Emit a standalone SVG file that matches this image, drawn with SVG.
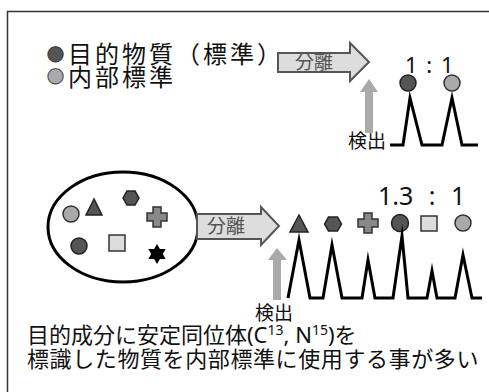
<svg xmlns="http://www.w3.org/2000/svg" width="489" height="392" viewBox="0 0 489 392">
<style>
.jp{font-family:"Noto Sans CJK JP","Noto Sans",sans-serif;fill:#111}
.num{font-family:"Noto Sans","Liberation Sans",sans-serif;fill:#111}
.dk{fill:#555;stroke:#222;stroke-width:1.5}
.md{fill:#888;stroke:#333;stroke-width:1.5}
.lt{fill:#aaa;stroke:#333;stroke-width:1.5}
.sq{fill:#ddd;stroke:#333;stroke-width:1.5}
.arrow{fill:#ddd;stroke:#555;stroke-width:2;stroke-linejoin:miter}
.uparrow{fill:#aaa;stroke:none}
.peak{fill:none;stroke:#000;stroke-width:3;stroke-linejoin:miter;stroke-miterlimit:10}
.albl{font-family:"Noto Sans CJK JP",sans-serif;font-size:19px;fill:#555}
.dot{font-size:17px;stroke:#222;stroke-width:0.8}
</style>
<rect x="7.5" y="11.5" width="500" height="400" fill="#fff" stroke="#333" stroke-width="1.5"/>

<g id="legend">
<text class="jp" x="47" y="61" font-size="24" letter-spacing="3"><tspan class="dot" fill="#555">●</tspan><tspan x="68" y="63">目的物質（標準）</tspan></text>
<text class="jp" x="47" y="83" font-size="24" letter-spacing="3"><tspan class="dot" fill="#aaa">●</tspan><tspan x="68" y="86">内部標準</tspan></text>
</g>

<g id="sep-arrow-top">
<polygon class="arrow" points="278,53 350,53 350,43 369,62 350,81 350,72 278,72"/>
<text class="albl" x="314" y="69" text-anchor="middle">分離</text>
</g>

<g id="ratio-top">
<text class="num" x="405" y="73" font-size="22" word-spacing="3">1 : 1</text>
<circle class="dk" cx="408" cy="83" r="8"/>
<circle class="lt" cx="452" cy="83" r="8"/>
</g>

<g id="detect-top">
<polygon class="uparrow" points="369,79 378,92 373,92 373,133 365,133 365,92 360,92"/>
<text class="jp" x="367" y="148" font-size="19" text-anchor="middle">検出</text>
</g>

<g id="chrom-top">
<polyline class="peak" points="390,145 403,145 410,98 422,145 442,145 452,98 462,145 478,145"/>
</g>

<g id="mixture">
<ellipse cx="123" cy="227" rx="75" ry="55" fill="#fff" stroke="#000" stroke-width="3"/>
<circle class="lt" cx="71" cy="214" r="8"/>
<polygon class="dk" points="94,199 86,215 102,215"/>
<polygon class="dk" points="123,198 127,191 135,191 139,198 135,205 127,205"/>
<polygon class="md" points="153,207 161,207 161,213 167,213 167,221 161,221 161,227 153,227 153,221 147,221 147,213 153,213"/>
<circle class="dk" cx="79" cy="246" r="8"/>
<rect class="sq" x="109" y="235" width="16" height="16"/>
<polygon fill="#000" points="157,244 159.9,249 165.7,249 162.8,254 165.7,259 159.9,259 157,264 154.1,259 148.3,259 151.2,254 148.3,249 154.1,249"/>
</g>

<g id="sep-arrow-mid">
<polygon class="arrow" points="197,214 261,214 261,207 279,226 261,245 261,239 197,239"/>
<text class="albl" x="226" y="233" text-anchor="middle">分離</text>
</g>

<g id="ratio-mid">
<text class="num" x="378" y="205" font-size="25" word-spacing="9">1.3 : 1</text>
<polygon class="dk" points="299,215 290,232 308,232"/>
<polygon class="dk" points="324.5,224 328.5,217 337.5,217 341.5,224 337.5,231 328.5,231"/>
<polygon class="md" points="364,213 372,213 372,219 378,219 378,227 372,227 372,233 364,233 364,227 358,227 358,219 364,219"/>
<circle class="dk" cx="400" cy="223" r="8.5"/>
<rect class="sq" x="421" y="216" width="16" height="15"/>
<circle class="lt" cx="463" cy="223" r="8"/>
</g>

<g id="detect-mid">
<polygon class="uparrow" points="277,248 287,260 281,260 281,300 273,300 273,260 268,260"/>
<text class="jp" x="274" y="320" font-size="19" text-anchor="middle">検出</text>
</g>

<g id="chrom-mid">
<polyline class="peak" points="288,298 299,240 310,298 323,298 332,245 342,298 362,298 368,260 375,298 393,298 402,236 408,298 427,298 432,271 437,298 455,298 463,255 472,298 482,298"/>
</g>

<g id="note">
<text class="jp" x="27" y="343" font-size="22">目的成分に安定同位体<tspan font-family="Noto Sans, sans-serif">(C</tspan><tspan font-family="Noto Sans, sans-serif" font-size="14" dy="-8">13</tspan><tspan font-family="Noto Sans, sans-serif" dy="8">, N</tspan><tspan font-family="Noto Sans, sans-serif" font-size="14" dy="-8">15</tspan><tspan font-family="Noto Sans, sans-serif" dy="8">)</tspan>を</text>
<text class="jp" x="27" y="367" font-size="22" letter-spacing="0.6">標識した物質を内部標準に使用する事が多い</text>
</g>
</svg>
